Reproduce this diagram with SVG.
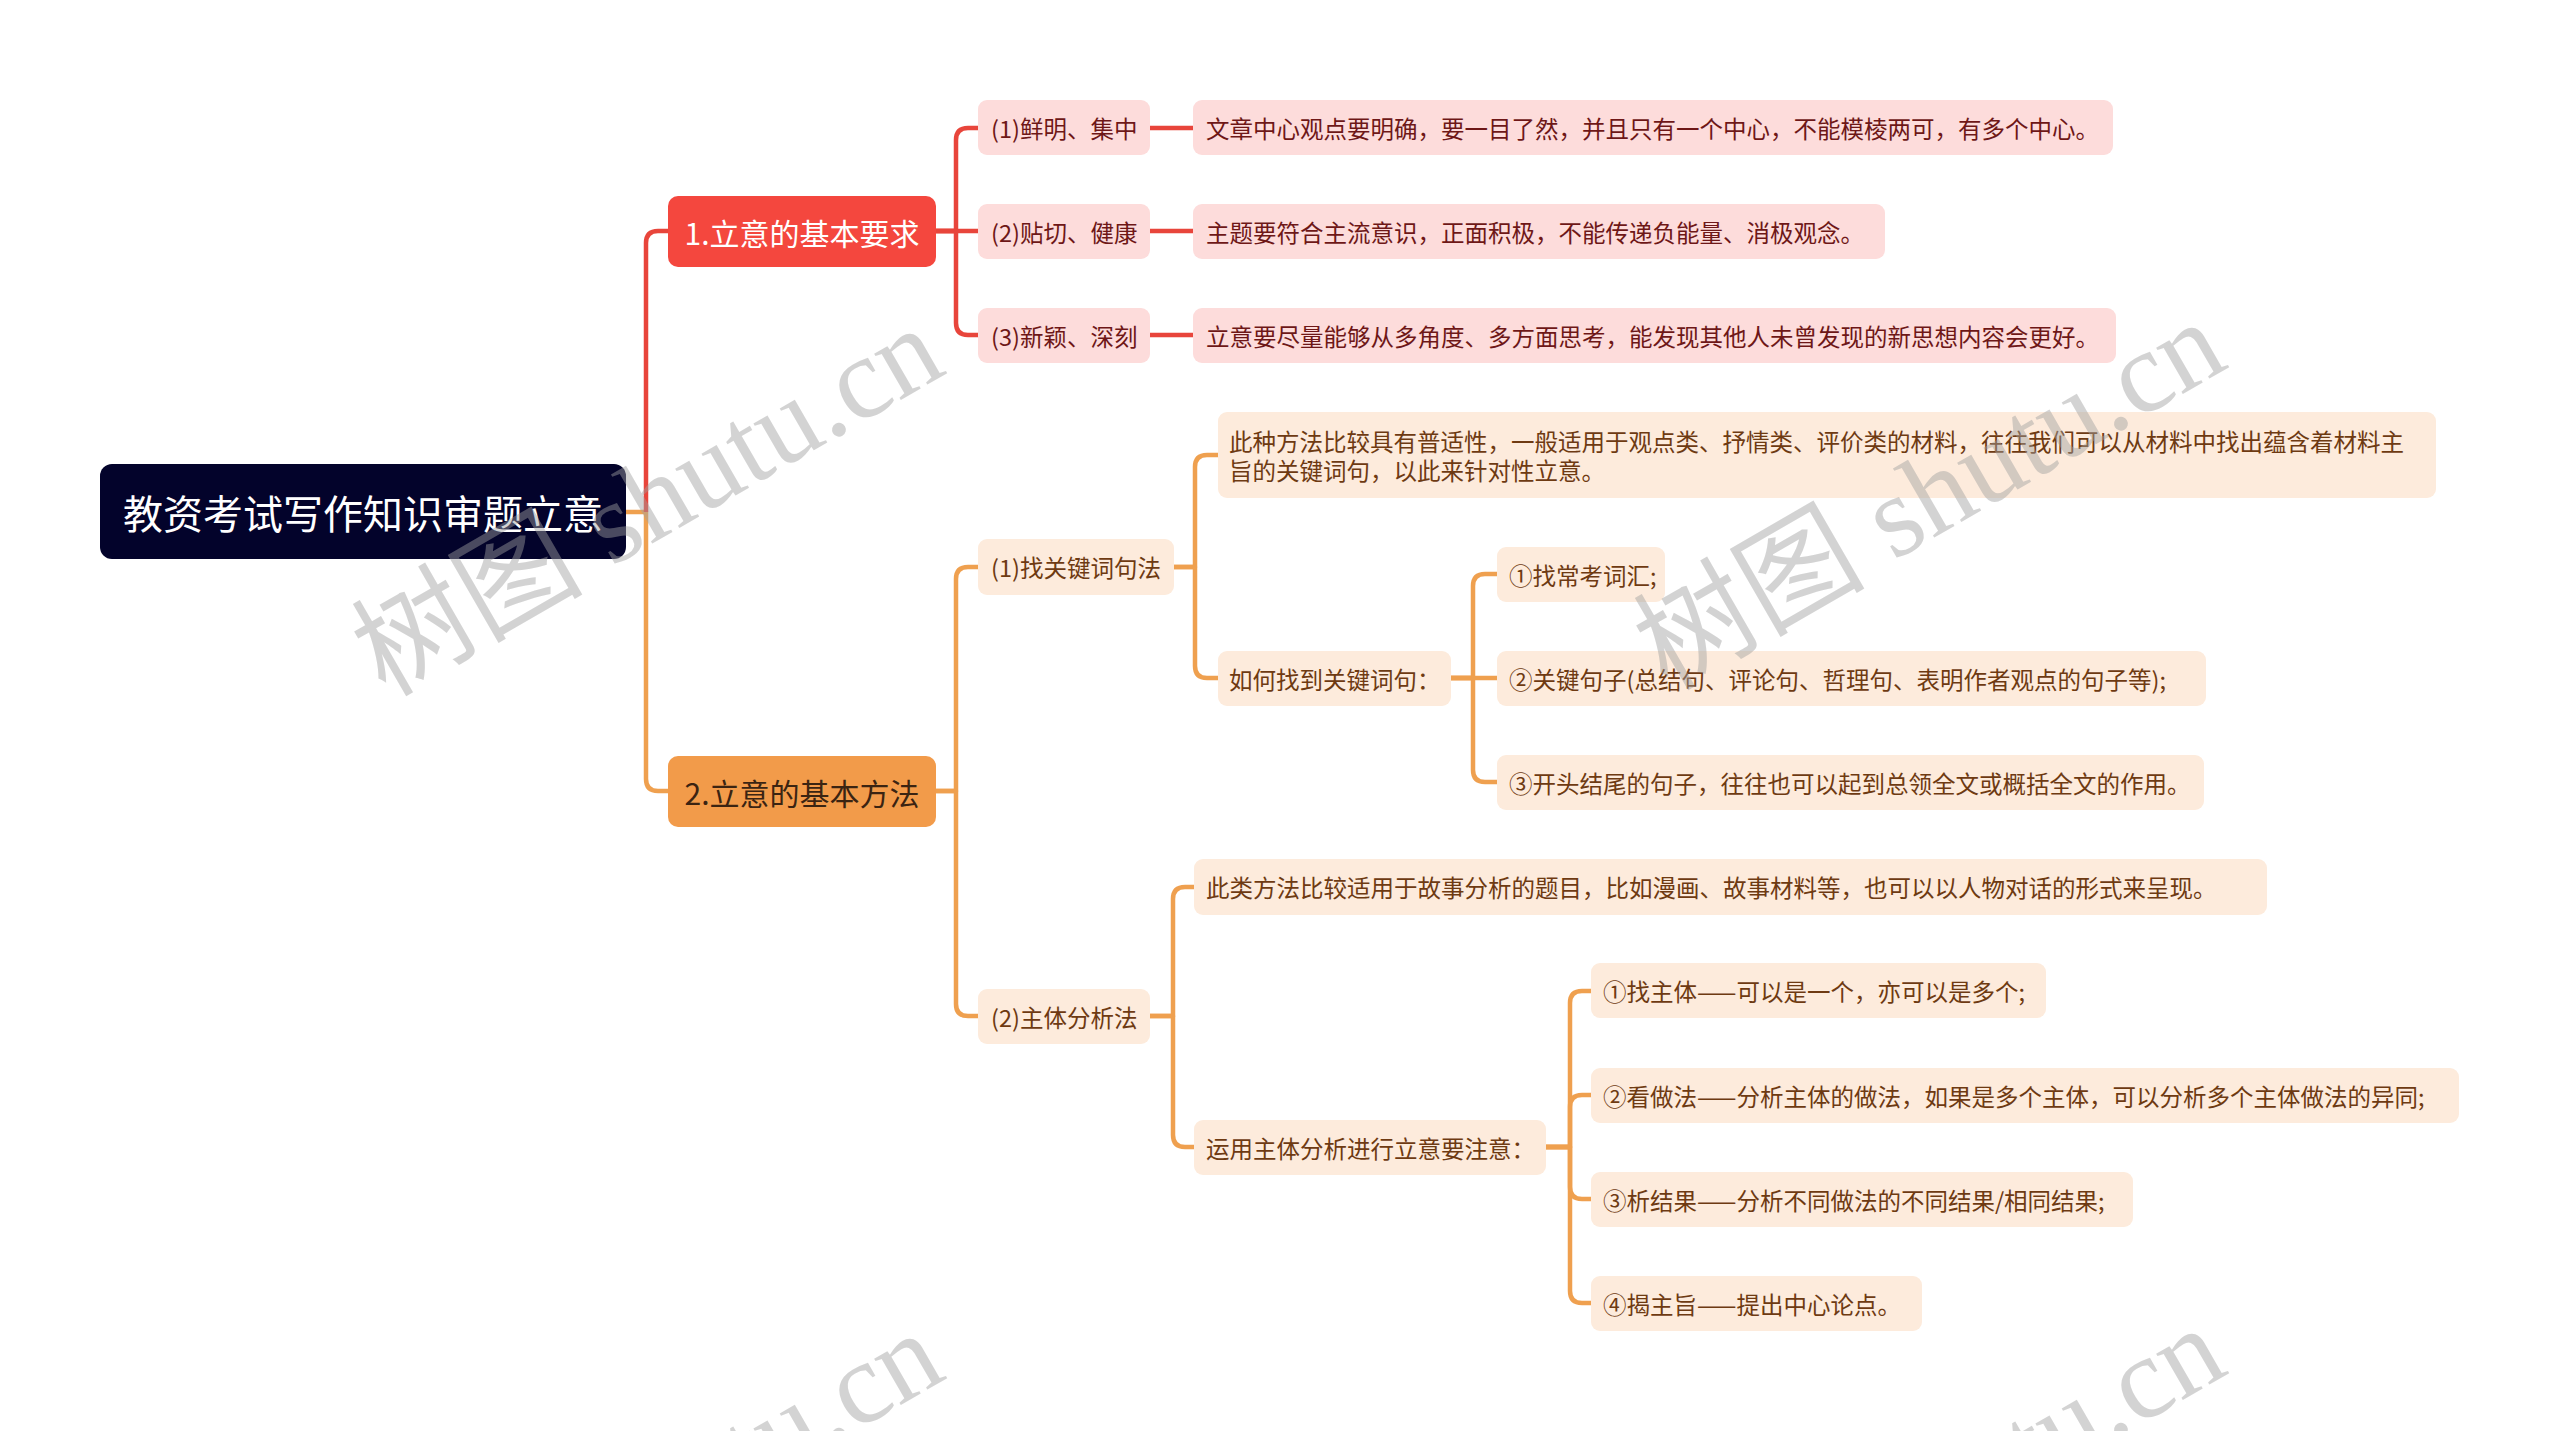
<svg xmlns="http://www.w3.org/2000/svg" width="2560" height="1431" viewBox="0 0 2560 1431">
<style>
.t{font-family:"Noto Sans CJK SC","Liberation Sans",sans-serif;dominant-baseline:central}
.s{font-size:23.5px}
.rbox{fill:#fddcdb}
.obox{fill:#fdebdc}
.rt{fill:#6e1717}
.ot{fill:#6e3a12}
.rl{fill:none;stroke:#e8453b;stroke-width:4.5;stroke-linejoin:round}
.ol{fill:none;stroke:#efa04f;stroke-width:4.5;stroke-linejoin:round}
.wm{font-family:"Liberation Serif","Noto Sans CJK SC",serif;font-size:116px;fill:#a0a0a0;opacity:0.45}
</style>
<rect width="2560" height="1431" fill="#ffffff"/>
<g id="connectors">
<path class="ol" d="M626 512 H646 V779 Q646 791 658 791 H668"/>
<path class="rl" d="M646 512 V243 Q646 231 658 231 H668"/>
<path class="rl" d="M936 231 H956 V140 Q956 128 968 128 H978"/>
<path class="rl" d="M936 231 H978"/>
<path class="rl" d="M936 231 H956 V323 Q956 335 968 335 H978"/>
<path class="rl" d="M1150 128 H1193"/>
<path class="rl" d="M1150 231 H1193"/>
<path class="rl" d="M1150 335 H1193"/>
<path class="ol" d="M936 791 H956 V579 Q956 567 968 567 H978"/>
<path class="ol" d="M936 791 H956 V1004 Q956 1016 968 1016 H978"/>
<path class="ol" d="M1174 567 H1195 V467 Q1195 455 1207 455 H1218"/>
<path class="ol" d="M1174 567 H1195 V666 Q1195 678 1207 678 H1218"/>
<path class="ol" d="M1451 678 H1473 V586 Q1473 574 1485 574 H1497"/>
<path class="ol" d="M1451 678 H1497"/>
<path class="ol" d="M1451 678 H1473 V770 Q1473 782 1485 782 H1497"/>
<path class="ol" d="M1150 1016 H1173 V899 Q1173 887 1185 887 H1194"/>
<path class="ol" d="M1150 1016 H1173 V1135 Q1173 1147 1185 1147 H1194"/>
<path class="ol" d="M1546 1147 H1570 V1003 Q1570 991 1582 991 H1591"/>
<path class="ol" d="M1546 1147 H1570 V1107 Q1570 1095 1582 1095 H1591"/>
<path class="ol" d="M1546 1147 H1570 V1187 Q1570 1199 1582 1199 H1591"/>
<path class="ol" d="M1546 1147 H1570 V1291 Q1570 1303 1582 1303 H1591"/>
</g>
<g id="root"><rect x="100" y="464" width="526" height="95" rx="12" fill="#03032b"/><text class="t" x="363" y="512" font-size="40" fill="#ffffff" text-anchor="middle">教资考试写作知识审题立意</text></g>
<g id="b1"><rect x="668" y="196" width="268" height="71" rx="10" fill="#f4473e"/><text class="t" x="802" y="232" font-size="30" fill="#ffffff" text-anchor="middle">1.立意的基本要求</text></g>
<g id="b2"><rect x="668" y="756" width="268" height="71" rx="10" fill="#f29b4a"/><text class="t" x="802" y="792" font-size="30" fill="#3b2412" text-anchor="middle">2.立意的基本方法</text></g>
<g id="r1"><rect class="rbox" x="978" y="100" width="172" height="55" rx="9"/><text class="t s rt" x="991" y="128">(1)鲜明、集中</text></g>
<g id="r2"><rect class="rbox" x="978" y="204" width="172" height="55" rx="9"/><text class="t s rt" x="991" y="232">(2)贴切、健康</text></g>
<g id="r3"><rect class="rbox" x="978" y="308" width="172" height="55" rx="9"/><text class="t s rt" x="991" y="336">(3)新颖、深刻</text></g>
<g id="d1"><rect class="rbox" x="1193" y="100" width="920" height="55" rx="9"/><text class="t s rt" x="1206" y="128">文章中心观点要明确，要一目了然，并且只有一个中心，不能模棱两可，有多个中心。</text></g>
<g id="d2"><rect class="rbox" x="1193" y="204" width="692" height="55" rx="9"/><text class="t s rt" x="1206" y="232">主题要符合主流意识，正面积极，不能传递负能量、消极观念。</text></g>
<g id="d3"><rect class="rbox" x="1193" y="308" width="923" height="55" rx="9"/><text class="t s rt" x="1206" y="336">立意要尽量能够从多角度、多方面思考，能发现其他人未曾发现的新思想内容会更好。</text></g>
<g id="o1"><rect class="obox" x="978" y="539" width="196" height="56" rx="9"/><text class="t s ot" x="991" y="567">(1)找关键词句法</text></g>
<g id="o2"><rect class="obox" x="978" y="989" width="172" height="55" rx="9"/><text class="t s ot" x="991" y="1017">(2)主体分析法</text></g>
<g id="k1"><rect class="obox" x="1218" y="412" width="1218" height="86" rx="9"/><text class="t s ot" x="1229" y="441">此种方法比较具有普适性，一般适用于观点类、抒情类、评价类的材料，往往我们可以从材料中找出蕴含着材料主</text><text class="t s ot" x="1229" y="470">旨的关键词句，以此来针对性立意。</text></g>
<g id="k2"><rect class="obox" x="1218" y="651" width="233" height="55" rx="9"/><text class="t s ot" x="1229" y="679">如何找到关键词句：</text></g>
<g id="s1"><rect class="obox" x="1497" y="547" width="168" height="55" rx="9"/><text class="t s ot" x="1509" y="575">①找常考词汇;</text></g>
<g id="s2"><rect class="obox" x="1497" y="651" width="709" height="55" rx="9"/><text class="t s ot" x="1509" y="679">②关键句子(总结句、评论句、哲理句、表明作者观点的句子等);</text></g>
<g id="s3"><rect class="obox" x="1497" y="755" width="707" height="55" rx="9"/><text class="t s ot" x="1509" y="783">③开头结尾的句子，往往也可以起到总领全文或概括全文的作用。</text></g>
<g id="p1"><rect class="obox" x="1194" y="859" width="1073" height="56" rx="9"/><text class="t s ot" x="1206" y="887">此类方法比较适用于故事分析的题目，比如漫画、故事材料等，也可以以人物对话的形式来呈现。</text></g>
<g id="p2"><rect class="obox" x="1194" y="1120" width="352" height="55" rx="9"/><text class="t s ot" x="1206" y="1148">运用主体分析进行立意要注意：</text></g>
<g id="q1"><rect class="obox" x="1591" y="963" width="455" height="55" rx="9"/><text class="t s ot" x="1603" y="991">①找主体——可以是一个，亦可以是多个;</text></g>
<g id="q2"><rect class="obox" x="1591" y="1068" width="868" height="55" rx="9"/><text class="t s ot" x="1603" y="1096">②看做法——分析主体的做法，如果是多个主体，可以分析多个主体做法的异同;</text></g>
<g id="q3"><rect class="obox" x="1591" y="1172" width="542" height="55" rx="9"/><text class="t s ot" x="1603" y="1200">③析结果——分析不同做法的不同结果/相同结果;</text></g>
<g id="q4"><rect class="obox" x="1591" y="1276" width="331" height="55" rx="9"/><text class="t s ot" x="1603" y="1304">④揭主旨——提出中心论点。</text></g>
<g id="watermarks">
<text class="wm" x="667" y="535" text-anchor="middle" transform="rotate(-30 667 535)">树图 shutu.cn</text>
<text class="wm" x="1949" y="529" text-anchor="middle" transform="rotate(-30 1949 529)">树图 shutu.cn</text>
<text class="wm" x="667" y="1540" text-anchor="middle" transform="rotate(-30 667 1540)">树图 shutu.cn</text>
<text class="wm" x="1949" y="1535" text-anchor="middle" transform="rotate(-30 1949 1535)">树图 shutu.cn</text>
</g>
</svg>
